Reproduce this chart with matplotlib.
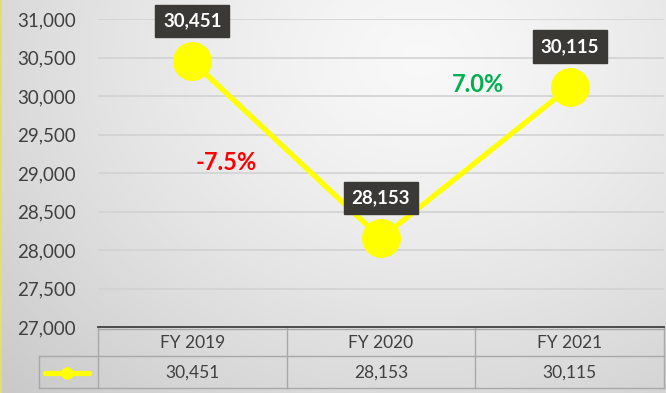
import numpy as np
import matplotlib
matplotlib.use("Agg")
import matplotlib.pyplot as plt
from matplotlib.lines import Line2D
from matplotlib.patches import Rectangle

# Data
categories = ["FY 2019", "FY 2020", "FY 2021"]
values = [30451, 28153, 30115]
changes = ["-7.5%", "7.0%"]
change_colors = ["#ff0000", "#00b050"]
y_ticks = [27000, 27500, 28000, 28500, 29000, 29500, 30000, 30500, 31000]

plt.rcParams["font.family"] = ["Lato", "DejaVu Sans"]

W, H = 666, 393
fig = plt.figure(figsize=(W / 100, H / 100), dpi=100)


def fx(px):
    return px / W


def fy(py):
    return 1 - py / H


# Soft radial background
bg = fig.add_axes([0, 0, 1, 1], zorder=-10)
yy, xx = np.mgrid[0:H, 0:W]
d = np.sqrt(((xx - 420) / 520.0) ** 2 + ((yy - 60) / 420.0) ** 2)
shade = np.clip(0.975 - 0.16 * d ** 1.3, 0.79, 0.98)
img = np.dstack([shade, shade, shade])
bg.imshow(img, extent=[0, W, H, 0], aspect="auto", interpolation="bilinear")
bg.add_patch(Rectangle((0, 0), 2, H, color="#e3df6e", lw=0))
bg.set_xlim(0, W)
bg.set_ylim(H, 0)
bg.axis("off")

# Main plot area
left, right, top, bottom = 98, 664, 19, 327
ax = fig.add_axes([fx(left), fy(bottom), fx(right - left), (bottom - top) / H])
ax.patch.set_alpha(0)
ax.set_xlim(-0.5, len(categories) - 0.5)
ax.set_ylim(27000, 31000)
ax.set_yticks(y_ticks)
ax.set_yticklabels([f"{v:,}" for v in y_ticks], fontsize=13.5, color="#404040")
ax.tick_params(axis="y", length=0, pad=16)
ax.set_xticks([])
for s in ax.spines.values():
    s.set_visible(False)
ax.yaxis.grid(True, color="#d2d2d2", lw=1.2)
ax.set_axisbelow(True)

x = np.arange(len(categories))
ax.plot(x, values, color="#ffff00", lw=3.8, marker="o", markersize=27,
        markerfacecolor="#ffff00", markeredgecolor="#ffff00", zorder=3,
        solid_capstyle="round")

# Data value labels in dark boxes
for xi, v in zip(x, values):
    ax.annotate(f"{v:,}", (xi, v), xytext=(0, 29), textcoords="offset points",
                ha="center", va="center", fontsize=13.5, fontweight="bold",
                color="white", zorder=5,
                bbox=dict(boxstyle="square,pad=0.42", fc="#3b3936", ec="#3b3936"))

# Year-over-year change labels
change_pos = [(226, 163), (478, 84)]
for (px, py), txt, col in zip(change_pos, changes, change_colors):
    fig.text(fx(px), fy(py), txt, ha="center", va="center", fontsize=17,
             fontweight="bold", color=col)

# Data table below the axis
grid_col = "#a8a8a8"
col_edges = [98, 287, 475, 664]
row_top, row_mid, row_bot = 327, 356, 388
leg_left = 39

def hline(y, x0, x1, color=grid_col, lw=1.0):
    fig.add_artist(Line2D([fx(x0), fx(x1)], [fy(y), fy(y)], color=color, lw=lw))


def vline(xp, y0, y1, color=grid_col, lw=1.0):
    fig.add_artist(Line2D([fx(xp), fx(xp)], [fy(y0), fy(y1)], color=color, lw=lw))

hline(row_top + 1.5, col_edges[0], col_edges[-1])
hline(row_mid, leg_left, col_edges[-1])
hline(row_bot, leg_left, col_edges[-1])
for xe in col_edges:
    vline(xe, row_top, row_bot)
vline(leg_left, row_mid, row_bot)
hline(row_top, col_edges[0], col_edges[-1], color="#404040", lw=1.3)

for i, (c, v) in enumerate(zip(categories, values)):
    cx = (col_edges[i] + col_edges[i + 1]) / 2
    fig.text(fx(cx), fy((row_top + row_mid) / 2 + 1), c, ha="center", va="center",
             fontsize=12.5, color="#404040")
    fig.text(fx(cx), fy((row_mid + row_bot) / 2 + 1), f"{v:,}", ha="center",
             va="center", fontsize=12.5, color="#404040")

# Legend key in table
ky = fy((row_mid + row_bot) / 2 + 1)
fig.add_artist(Line2D([fx(45), fx(89)], [ky, ky], color="#ffff00", lw=3.8,
                      solid_capstyle="round"))
fig.add_artist(Line2D([fx(67)], [ky], color="#ffff00", marker="o", markersize=8,
                      markeredgecolor="#ffff00"))

fig.savefig("out.png", dpi=100)
